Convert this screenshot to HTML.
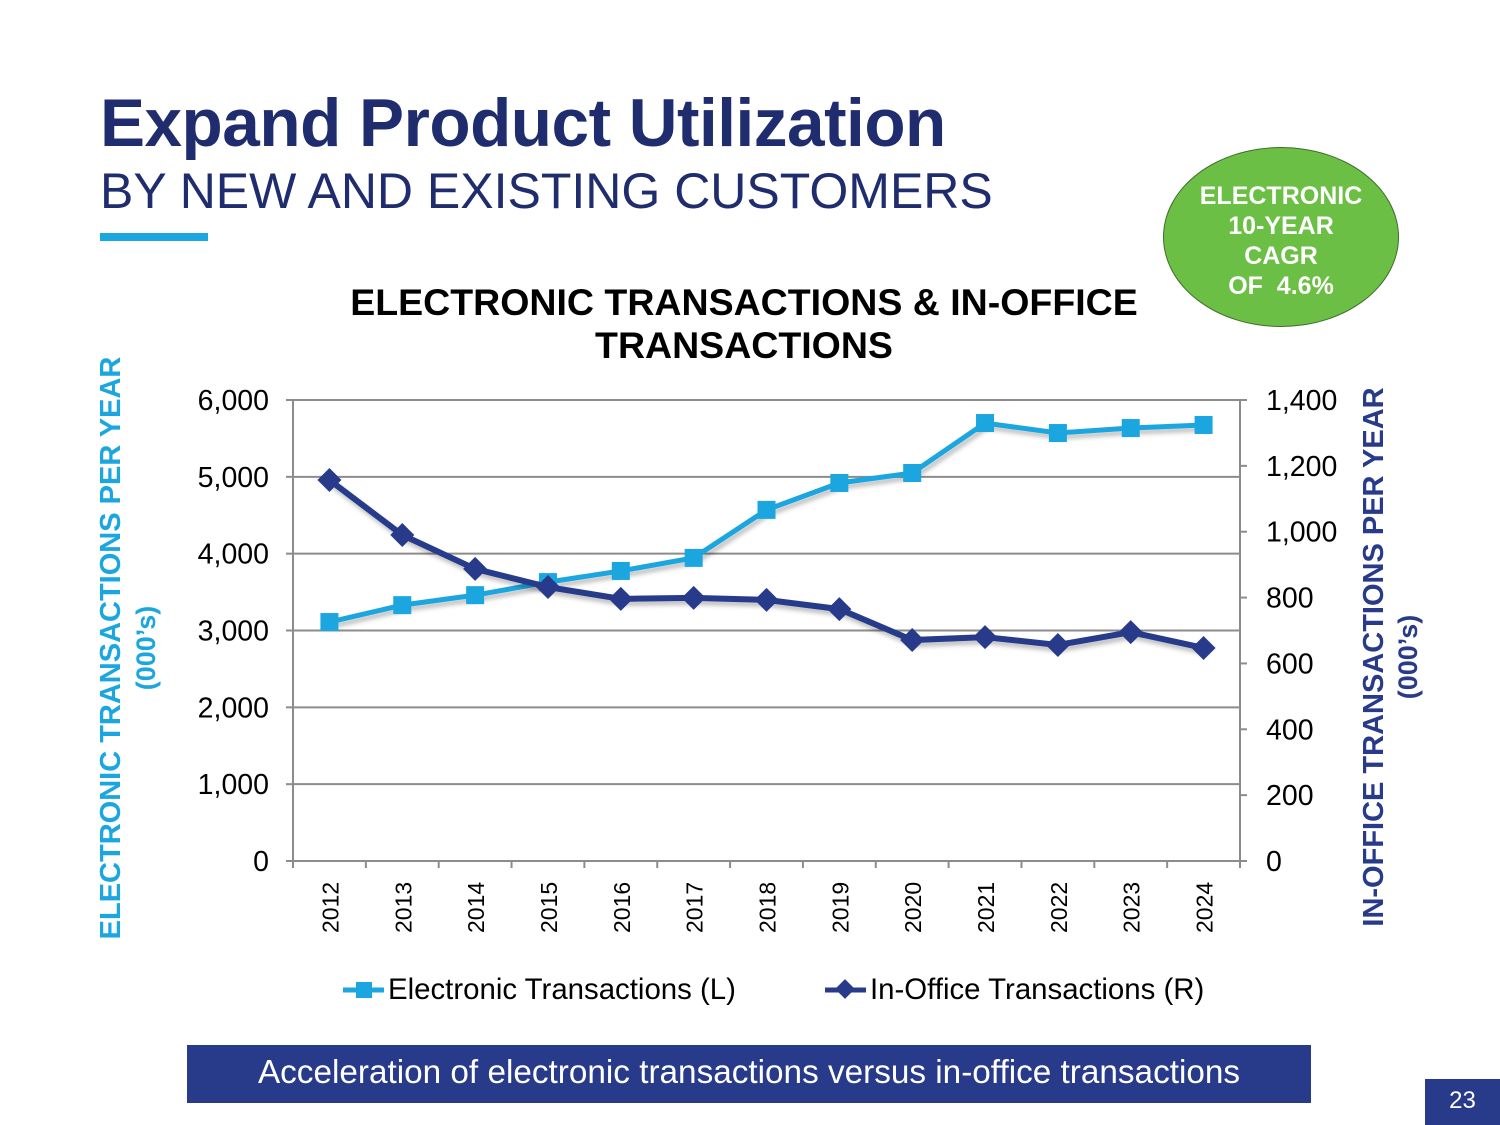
<!DOCTYPE html>
<html><head><meta charset="utf-8"><style>
body{margin:0;width:1500px;height:1125px;background:#fff;font-family:"Liberation Sans",Arial,sans-serif;position:relative;overflow:hidden}
.abs{position:absolute}
</style></head><body>
<div class="abs" style="left:100px;top:85px;font-size:67.5px;font-weight:bold;color:#1f2d6e;letter-spacing:-0.5px">Expand Product Utilization</div>
<div class="abs" style="left:100px;top:162px;font-size:50px;color:#1f2d6e">BY NEW AND EXISTING CUSTOMERS</div>
<div class="abs" style="left:100px;top:233px;width:108px;height:8px;background:#1ba6e0"></div>
<div class="abs" style="left:1163px;top:147px;width:236px;height:180px;border-radius:50%;background:#6bbf45;border:1px solid #3f6d2a;box-sizing:border-box;color:#fff;font-weight:bold;font-size:25px;text-align:center;line-height:30px;padding-top:33px">ELECTRONIC<br>10-YEAR<br>CAGR<br>OF&nbsp; 4.6%</div>
<svg class="abs" style="left:0;top:0" width="1500" height="1125">
<defs><filter id="sh" x="-5%" y="-5%" width="110%" height="120%"><feDropShadow dx="2" dy="4" stdDeviation="2" flood-color="#000" flood-opacity="0.25"/></filter></defs>
<text x="744" y="315" text-anchor="middle" font-size="37.5" font-weight="bold" fill="#000">ELECTRONIC TRANSACTIONS &amp; IN-OFFICE</text>
<text x="744" y="358" text-anchor="middle" font-size="37.5" font-weight="bold" fill="#000">TRANSACTIONS</text>
<g id="grid"></g><g id="axes"></g><g id="series"></g>
<text transform="translate(120,648) rotate(-90)" text-anchor="middle" font-size="29" font-weight="bold" fill="#1ba6e0">ELECTRONIC TRANSACTIONS PER YEAR</text>
<text transform="translate(155,648) rotate(-90)" text-anchor="middle" font-size="27" font-weight="bold" fill="#1ba6e0">(000’s)</text>
<text transform="translate(1383,657) rotate(-90)" text-anchor="middle" font-size="29" font-weight="bold" fill="#283a8a">IN-OFFICE TRANSACTIONS PER YEAR</text>
<text transform="translate(1417,657) rotate(-90)" text-anchor="middle" font-size="27" font-weight="bold" fill="#283a8a">(000’s)</text>
<g><line x1="343" y1="990" x2="384" y2="990" stroke="#1ba6e0" stroke-width="5"/><rect x="356" y="982" width="16" height="16" fill="#1ba6e0"/><text x="388" y="999" font-size="29.4" fill="#000">Electronic Transactions (L)</text></g>
<g><line x1="825" y1="990" x2="866" y2="990" stroke="#283a8a" stroke-width="5"/><rect x="838" y="982" width="14" height="14" fill="#283a8a" transform="rotate(45 845 989)"/><text x="870" y="999" font-size="29.4" fill="#000">In-Office Transactions (R)</text></g>
</svg>
<div class="abs" style="left:187px;top:1045px;width:1124px;height:58px;background:#283a8a;color:#fff;font-size:33.3px;text-align:center;line-height:56px">Acceleration of electronic transactions versus in-office transactions</div>
<div class="abs" style="left:1425px;top:1079px;width:75px;height:46px;background:#283a8a;color:#fff;font-size:24px;text-align:center;line-height:44px">23</div>
<script>
const years=["2012","2013","2014","2015","2016","2017","2018","2019","2020","2021","2022","2023","2024"];
const electronic=[3110,3330,3460,3630,3775,3945,4570,4920,5050,5700,5570,5635,5675];
const inOffice=[1157,990,887,832,796,799,793,765,671,680,656,695,647];
const leftTicks=[0,1000,2000,3000,4000,5000,6000];
const rightTicks=[0,200,400,600,800,1000,1200,1400];
const NS="http://www.w3.org/2000/svg";
const X0=293,X1=1240,Y0=861,Y1=400;
const bw=(X1-X0)/years.length;
const xs=i=>X0+bw*(i+0.5);
const yL=v=>Y0-(v/6000)*(Y0-Y1);
const yR=v=>Y0-(v/1400)*(Y0-Y1);
function mk(tag,at,parent){const e=document.createElementNS(NS,tag);for(const k in at)e.setAttribute(k,at[k]);parent.appendChild(e);return e;}
const grid=document.getElementById('grid'),axes=document.getElementById('axes'),ser=document.getElementById('series');
leftTicks.forEach(t=>{const y=yL(t);
 if(t>0){const g=mk('line',{x1:X0,x2:X1,y1:y,y2:y,stroke:'#8c8c8c','stroke-width':2},grid);
 
 }
 mk('line',{x1:X0-7,x2:X0,y1:y,y2:y,stroke:'#8c8c8c','stroke-width':2},axes);
 const tx=mk('text',{x:X0-24,y:y+10,'text-anchor':'end','font-size':28.5,fill:'#000'},axes);tx.textContent=t.toLocaleString('en-US');
 
 });
rightTicks.forEach(t=>{const y=yR(t);
 mk('line',{x1:X1,x2:X1+7,y1:y,y2:y,stroke:'#8c8c8c','stroke-width':2},axes);
 const tx=mk('text',{x:X1+26,y:y+10,'font-size':28.5,fill:'#000'},axes);tx.textContent=t.toLocaleString('en-US');
 
 });
mk('line',{x1:X0,x2:X0,y1:Y1,y2:Y0,stroke:'#8c8c8c','stroke-width':2},axes);
mk('line',{x1:X1,x2:X1,y1:Y1,y2:Y0,stroke:'#8c8c8c','stroke-width':2},axes);
mk('line',{x1:X0,x2:X1,y1:Y0,y2:Y0,stroke:'#8c8c8c','stroke-width':2},axes);
years.forEach((yr,i)=>{const x=X0+bw*i;
 mk('line',{x1:x,x2:x,y1:Y0,y2:Y0+7,stroke:'#8c8c8c','stroke-width':2},axes);
 const tx=mk('text',{transform:`translate(${xs(i)+9},${Y0+72}) rotate(-90)`,'font-size':23,fill:'#000'},axes);tx.textContent=yr;
 
 });
mk('line',{x1:X1,x2:X1,y1:Y0,y2:Y0+7,stroke:'#8c8c8c','stroke-width':2},axes);
const pe=mk('polyline',{points:electronic.map((v,i)=>xs(i)+','+yL(v)).join(' '),fill:'none',stroke:'#1ba6e0','stroke-width':5,filter:'url(#sh)'},ser);


electronic.forEach((v,i)=>{const r=mk('rect',{x:xs(i)-9,y:yL(v)-9,width:18,height:18,fill:'#1ba6e0'},ser);
 
 });
const po=mk('polyline',{points:inOffice.map((v,i)=>xs(i)+','+yR(v)).join(' '),fill:'none',stroke:'#283a8a','stroke-width':6,filter:'url(#sh)'},ser);


inOffice.forEach((v,i)=>{const x=xs(i),y=yR(v);const d=mk('polygon',{points:`${x},${y-12} ${x+12},${y} ${x},${y+12} ${x-12},${y}`,fill:'#283a8a'},ser);
 
 });
</script>
</body></html>
